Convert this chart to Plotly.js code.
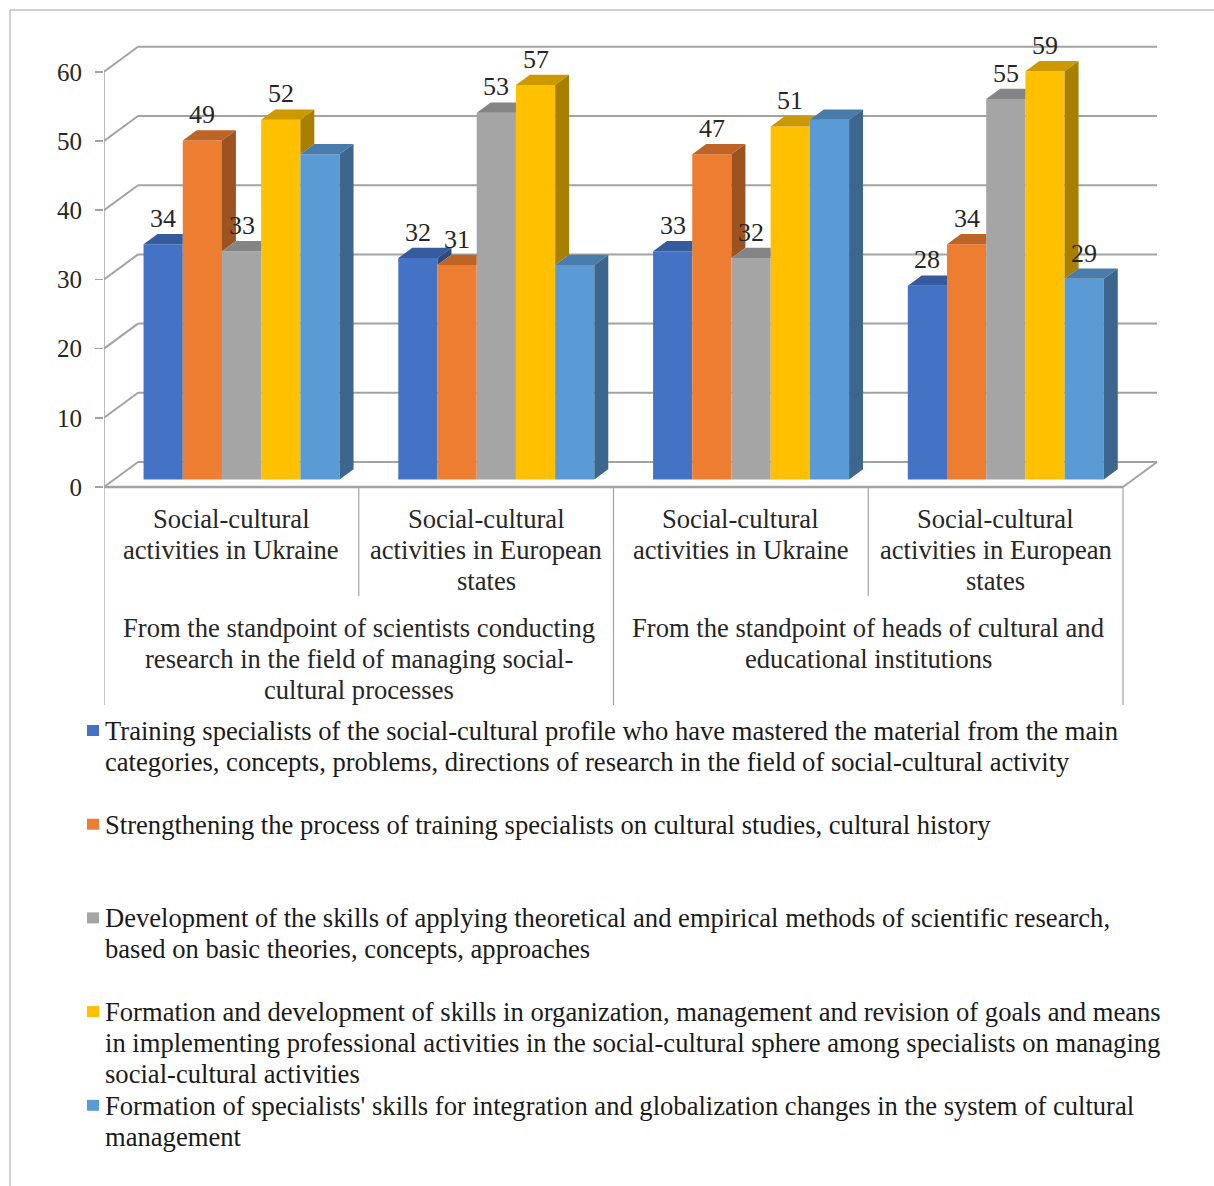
<!DOCTYPE html>
<html><head><meta charset="utf-8">
<script src="https://cdn.plot.ly/plotly-3.0.1.min.js"></script>
<style>html,body{margin:0;padding:0;background:#fff;}#chart{width:1214px;height:1186px;}</style>
</head><body><div id="chart"></div>
<script>
// ---------------- data ----------------
const subCategories = [
  "Social-cultural<br>activities in Ukraine",
  "Social-cultural<br>activities in European<br>states",
  "Social-cultural<br>activities in Ukraine",
  "Social-cultural<br>activities in European<br>states"
];
const groupCategories = [
  "From the standpoint of scientists conducting<br>research in the field of managing social-<br>cultural processes",
  "From the standpoint of heads of cultural and<br>educational institutions"
];
const seriesNames = [
  "Training specialists of the social-cultural profile who have mastered the material from the main<br>categories, concepts, problems, directions of research in the field of social-cultural activity",
  "Strengthening the process of training specialists on cultural studies, cultural history",
  "Development of the skills of applying theoretical and empirical methods of scientific research,<br>based on basic theories, concepts, approaches",
  "Formation and development of skills in organization, management and revision of goals and means<br>in implementing professional activities in the social-cultural sphere among specialists on managing<br>social-cultural activities",
  "Formation of specialists' skills for integration and globalization changes in the system of cultural<br>management"
];
const seriesColors = ["#4472C4", "#ED7D31", "#A5A5A5", "#FFC000", "#5B9BD5"];
const valuesTraining    = [34, 32, 33, 28];
const valuesStrengthen  = [49, 31, 47, 34];
const valuesDevelopment = [33, 53, 32, 55];
const valuesFormation   = [52, 57, 51, 59];
const valuesIntegration = [47, 31, 52, 29];
const seriesValues = [valuesTraining, valuesStrengthen, valuesDevelopment, valuesFormation, valuesIntegration];
// which data labels are printed in the original
const labelShown = [
  [true, true, true, true],
  [true, true, true, true],
  [true, true, true, true],
  [true, true, true, true],
  [false, false, false, true]
];
const yTicks = [0, 10, 20, 30, 40, 50, 60];

// ---------------- geometry / style ----------------
const W = 1214, H = 1186;
const ml = 104, mr = 40, mt = 37, mb = 471;
const pxPerCat = 254.75, pxPerUnit = 6.92;
const plotW = W - ml - mr, plotH = H - mt - mb;
const floorPy = 487;
const xMax = plotW / pxPerCat;
const yMax = (floorPy - mt) / pxPerUnit;
const yMin = -(H - mb - floorPy) / pxPerUnit;
const dx = 34 / pxPerCat, dy = 25 / pxPerUnit;   // depth of the box
const zF = 0.3, zB = 0.71;                       // bar front/back depth
const nCat = subCategories.length, nSer = seriesValues.length;
const barW = 0.1539, groupW = barW * nSer;
const bw = (zB - zF) * dx, bh = (zB - zF) * dy;
const FONT = "Liberation Serif, Times New Roman, serif";
const GRID = "#A3A3A3";
const TXT = 26.6;

function shade(hex, f) {
  const n = parseInt(hex.slice(1), 16);
  const r = Math.round(((n >> 16) & 255) * f), g = Math.round(((n >> 8) & 255) * f), b = Math.round((n & 255) * f);
  return "rgb(" + r + "," + g + "," + b + ")";
}
const paperX = px => (px - ml) / plotW;
const paperY = py => (H - mb - py) / plotH;
const valY = py => (floorPy - py) / pxPerUnit;

function barLeft(i, s) { return i + 0.5 - groupW / 2 + s * barW + zF * dx; }

const traces = [];
// front faces: real bar traces
for (let s = 0; s < nSer; s++) {
  const xs = [], bases = [];
  for (let i = 0; i < nCat; i++) { xs.push(barLeft(i, s) + barW / 2); bases.push(zF * dy); }
  traces.push({
    type: "bar", x: xs, y: seriesValues[s], base: bases, width: barW,
    name: seriesNames[s], marker: {color: seriesColors[s], line: {width: 0}},
    showlegend: false, hoverinfo: "y"
  });
}
// top and side faces
for (let s = 0; s < nSer; s++) {
  const tx = [], ty = [], sx = [], sy = [];
  for (let i = 0; i < nCat; i++) {
    const xl = barLeft(i, s), xr = xl + barW;
    const ts = seriesValues[s][i] + zF * dy;
    const base = zF * dy;
    const hasNext = s < nSer - 1;
    const t1 = hasNext ? seriesValues[s + 1][i] + zF * dy : -Infinity;
    const t1c = Math.min(Math.max(t1, ts), ts + bh);
    const xs = xr + (t1c - ts) / bh * bw;
    tx.push(xl, xr, xr, xs, xr + bw, xl + bw, xl, null);
    ty.push(ts, ts, t1c, t1c, ts + bh, ts + bh, ts, null);
    const b2 = Math.max(base, t1);
    if (b2 < ts) {
      sx.push(xr, xr, xr + bw, xr + bw, xr, null);
      sy.push(b2, ts, ts + bh, b2 + bh, b2, null);
    }
  }
  traces.push({type: "scatter", mode: "lines", x: tx, y: ty, fill: "toself",
    fillcolor: shade(seriesColors[s], 0.8), line: {width: 0}, hoverinfo: "skip", showlegend: false});
  if (sx.length) traces.push({type: "scatter", mode: "lines", x: sx, y: sy, fill: "toself",
    fillcolor: shade(seriesColors[s], 0.66), line: {width: 0}, hoverinfo: "skip", showlegend: false});
}

const shapes = [];
const annotations = [];
// walls / grid
yTicks.forEach(v => {
  shapes.push({type: "line", xref: "x", yref: "y", x0: dx, y0: v + dy, x1: nCat + dx, y1: v + dy, line: {color: GRID, width: 2}, layer: "below"});
  shapes.push({type: "line", xref: "x", yref: "y", x0: 0, y0: v, x1: dx, y1: v + dy, line: {color: GRID, width: 2}, layer: "below"});
});
shapes.push({type: "line", xref: "x", yref: "y", x0: 0, y0: 0, x1: 0, y1: yTicks[yTicks.length - 1], line: {color: GRID, width: 1.5}, layer: "below"});
shapes.push({type: "line", xref: "x", yref: "y", x0: 0, y0: 0, x1: nCat, y1: 0, line: {color: GRID, width: 2.5}, layer: "below"});
shapes.push({type: "line", xref: "x", yref: "y", x0: nCat, y0: 0, x1: nCat + dx, y1: dy, line: {color: GRID, width: 2}, layer: "below"});
// category separators
for (let i = 0; i <= nCat; i++) {
  const long = (i % 2 === 0);
  shapes.push({type: "line", xref: "x", yref: "y", x0: i, y0: 0, x1: i, y1: valY(long ? 705 : 596), line: {color: GRID, width: 1.2}, layer: "below"});
}
// category labels
subCategories.forEach((lab, i) => {
  lab.split("<br>").forEach((ln, k) => {
    annotations.push({xref: "x", yref: "y", x: i + 0.5, y: valY(519 + 31 * k), text: ln, showarrow: false,
      xanchor: "center", yanchor: "middle", font: {family: FONT, size: TXT, color: "#262626"}});
  });
});
groupCategories.forEach((lab, g) => {
  lab.split("<br>").forEach((ln, k) => {
    annotations.push({xref: "x", yref: "y", x: 2 * g + 1, y: valY(628 + 31 * k), text: ln, showarrow: false,
      xanchor: "center", yanchor: "middle", font: {family: FONT, size: TXT, color: "#262626"}});
  });
});
// data labels
for (let s = 0; s < nSer; s++) {
  for (let i = 0; i < nCat; i++) {
    if (!labelShown[s][i]) continue;
    annotations.push({xref: "x", yref: "y", x: barLeft(i, s) + barW / 2, y: seriesValues[s][i] + zB * dy,
      text: String(seriesValues[s][i]), showarrow: false, xanchor: "center", yanchor: "bottom", yshift: -1,
      font: {family: FONT, size: 26, color: "#262626"}});
  }
}
// legend (custom, fixed slots as in original)
seriesNames.forEach((nm, s) => {
  const cy = 731 + 93.7 * s;
  shapes.push({type: "rect", xref: "paper", yref: "paper", x0: paperX(87), x1: paperX(99), y0: paperY(cy + 5), y1: paperY(cy - 6),
    fillcolor: seriesColors[s], line: {width: 0}});
  nm.split("<br>").forEach((ln, k) => {
    annotations.push({xref: "paper", yref: "paper", x: paperX(103), y: paperY(cy + 31 * k), text: ln, showarrow: false,
      xanchor: "left", yanchor: "middle", font: {family: FONT, size: TXT, color: "#1a1a1a"}});
  });
});
// outer border
shapes.push({type: "rect", xref: "paper", yref: "paper", x0: paperX(10), x1: paperX(1230), y0: paperY(1200), y1: paperY(10),
  line: {color: "#A0A0A0", width: 1}, fillcolor: "rgba(0,0,0,0)"});

const layout = {
  width: W, height: H,
  margin: {l: ml, r: mr, t: mt, b: mb, autoexpand: false},
  paper_bgcolor: "#ffffff", plot_bgcolor: "rgba(0,0,0,0)",
  barmode: "overlay", showlegend: false,
  xaxis: {range: [0, xMax], visible: false, fixedrange: true},
  yaxis: {range: [yMin, yMax], tickvals: yTicks, ticktext: yTicks.map(String), ticks: "outside", ticklen: 8,
    tickwidth: 1.5, tickcolor: GRID, showgrid: false, zeroline: false, showline: false, ticklabelstandoff: 8,
    tickfont: {family: FONT, size: 25, color: "#262626"}, fixedrange: true},
  shapes: shapes, annotations: annotations
};
Plotly.newPlot("chart", traces, layout, {displayModeBar: false, staticPlot: true});
</script></body></html>
